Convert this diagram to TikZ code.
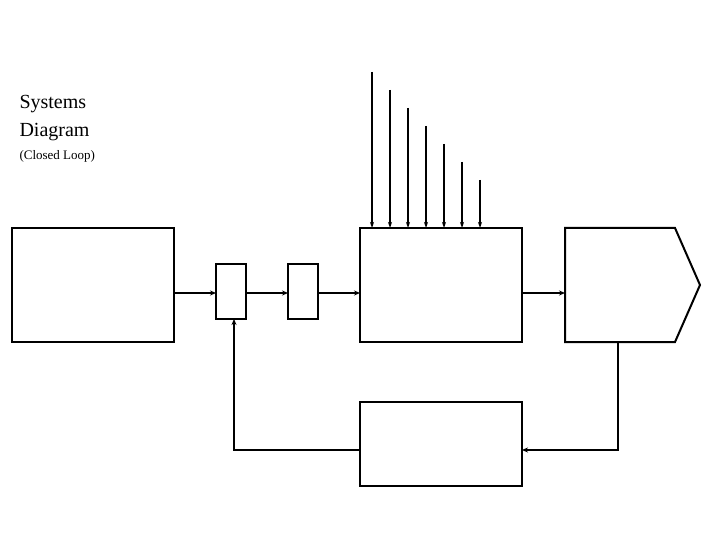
\documentclass[tikz,border=0pt]{standalone}
\usepackage{fontspec}
\setmainfont{Liberation Serif}
\usetikzlibrary{arrows.meta}
\begin{document}
\begin{tikzpicture}[x=1pt,y=-1pt,
  blk/.style={draw,line width=2pt},
  conn/.style={line width=2.2pt,-{Stealth[length=6pt,width=5pt]}},
  plain/.style={line width=2.2pt},
  inp/.style={line width=1.3pt,-{Stealth[length=6pt,width=4pt]}}]
\useasboundingbox (0,0) rectangle (720,540);
\node[anchor=west,font=\fontsize{20}{22}\selectfont] (t1) at (16,104) {Systems};
\node[anchor=west,font=\fontsize{20}{22}\selectfont] (t2) at (16,132) {Diagram};
\node[anchor=west,font=\fontsize{13}{15}\selectfont] (t3) at (16,156) {(Closed Loop)};
\draw[blk] (12,228) rectangle (174,342);
\coordinate (inR) at (174,293);
\draw[blk] (216,264) rectangle (246,319);
\coordinate (b1L) at (216,293); \coordinate (b1R) at (246,293); \coordinate (b1B) at (234,319);
\draw[blk] (288,264) rectangle (318,319);
\coordinate (b2L) at (288,293); \coordinate (b2R) at (318,293);
\draw[blk] (360,228) rectangle (522,342);
\coordinate (mL) at (360,293); \coordinate (mR) at (522,293);
\draw[blk] (565,228) -- (675,228) -- (700,285) -- (675,342) -- (565,342) -- cycle;
\coordinate (oL) at (565,293); \coordinate (oB) at (618,342);
\draw[blk] (360,402) rectangle (522,486);
\coordinate (fR) at (522,450); \coordinate (fL) at (360,450);
\draw[conn] (inR) -- (b1L);
\draw[conn] (b1R) -- (b2L);
\draw[conn] (b2R) -- (mL);
\draw[conn] (mR) -- (oL);
\draw[conn] (oB) -- (618,450) -- (fR);
\draw[conn] (fL) -- (234,450) -- (b1B);
\foreach \i in {0,...,6} {
  \coordinate (s\i) at ({372+18*\i},{72+18*\i});
  \coordinate (e\i) at ({372+18*\i},228);
  \draw[inp] (s\i) -- (e\i);
}
\end{tikzpicture}
\end{document}
